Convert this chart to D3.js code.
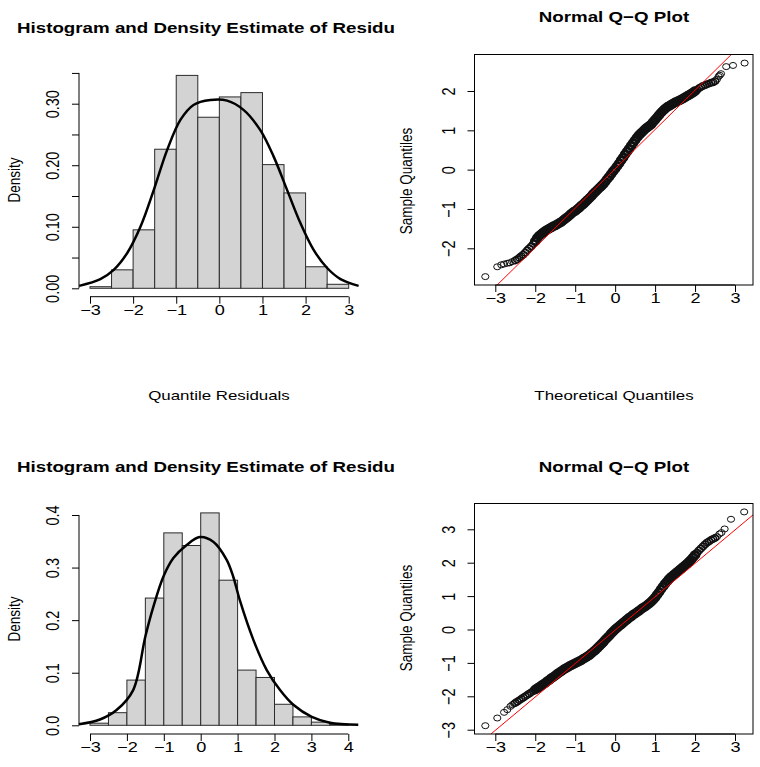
<!DOCTYPE html>
<html>
<head>
<meta charset="utf-8">
<script src="https://cdn.jsdelivr.net/npm/d3@7"></script>
<style>
  body { margin: 0; background: #fff; }
  svg { display: block; font-family: "Liberation Sans", Arial, Helvetica, sans-serif; }
</style>
</head>
<body>
<div id="chart"></div>
<script>
// ---- data ----

// top row: histogram of residuals (breaks every 0.5) and density estimate
var breaksTop = [-3, -2.5, -2, -1.5, -1, -0.5, 0, 0.5, 1, 1.5, 2, 2.5, 3];
var densTop = [0.0026, 0.030, 0.095, 0.226, 0.346, 0.278, 0.311, 0.318, 0.201, 0.155, 0.035, 0.0065];
var kdeTopX = [-3.25, -2.76, -2.45, -2.14, -1.83, -1.52, -1.21, -0.90, -0.60, -0.21, 0.18, 0.56, 0.95, 1.26, 1.57, 1.88, 2.19, 2.50, 2.81, 3.23];
var kdeTopY = [0.004, 0.015, 0.030, 0.057, 0.100, 0.160, 0.225, 0.274, 0.298, 0.306, 0.305, 0.290, 0.257, 0.214, 0.160, 0.106, 0.062, 0.033, 0.015, 0.004];
var histTopXTicks = [-3, -2, -1, 0, 1, 2, 3];
var histTopYTicks = [0, 0.05, 0.10, 0.15, 0.20, 0.25, 0.30, 0.35];
var histTopYLabels = [0, 0.10, 0.20, 0.30];

// bottom row histogram
var breaksBot = [-3, -2.5, -2, -1.5, -1, -0.5, 0, 0.5, 1, 1.5, 2, 2.5, 3, 3.5, 4];
var densBot = [0.004, 0.024, 0.086, 0.242, 0.366, 0.342, 0.404, 0.276, 0.105, 0.091, 0.040, 0.016, 0.006, 0.002];
var kdeBotX = [-3.30, -2.73, -2.28, -1.83, -1.50, -1.28, -1.01, -0.74, -0.38, -0.02, 0.34, 0.70, 0.88, 1.06, 1.43, 1.79, 2.15, 2.51, 3.01, 3.50, 4.27];
var kdeBotY = [0.002, 0.011, 0.029, 0.067, 0.169, 0.226, 0.283, 0.318, 0.343, 0.358, 0.349, 0.315, 0.283, 0.238, 0.162, 0.105, 0.067, 0.039, 0.016, 0.005, 0.001];
var histBotXTicks = [-3, -2, -1, 0, 1, 2, 3, 4];
var histBotYTicks = [0, 0.1, 0.2, 0.3, 0.4];

// normal Q-Q plots: [theoretical, sample]
var qqTop = [
  [-3.25,-2.72],[-2.95,-2.47],[-2.85,-2.42],[-2.78,-2.40],[-2.70,-2.38],[-2.64,-2.37],[-2.58,-2.34],
  [-2.50,-2.31],[-2.45,-2.28],[-2.40,-2.24],[-2.35,-2.20],[-2.30,-2.16],[-2.25,-2.11],[-2.20,-2.05],
  [-2.15,-2.00],[-2.10,-1.95],[-2.05,-1.89],[-2.00,-1.82],[-1.95,-1.74],[-1.90,-1.68],[-1.85,-1.64],
  [-1.80,-1.60],[-1.75,-1.56],[-1.70,-1.53],[-1.65,-1.50],[-1.60,-1.47],[-1.55,-1.44],[-1.50,-1.42],
  [-1.45,-1.39],[-1.40,-1.36],[-1.35,-1.33],[-1.30,-1.29],[-1.25,-1.25],[-1.20,-1.21],[-1.15,-1.17],
  [-1.10,-1.12],[-1.05,-1.08],[-1.00,-1.05],[-0.95,-1.01],[-0.90,-0.97],[-0.85,-0.92],[-0.80,-0.88],
  [-0.75,-0.83],[-0.70,-0.78],[-0.65,-0.73],[-0.60,-0.68],[-0.55,-0.62],[-0.50,-0.57],[-0.45,-0.52],
  [-0.40,-0.47],[-0.35,-0.42],[-0.30,-0.37],[-0.25,-0.31],[-0.20,-0.24],[-0.15,-0.18],[-0.10,-0.11],
  [-0.05,-0.04],[0.00,0.02],[0.05,0.09],[0.10,0.16],[0.15,0.24],[0.20,0.31],[0.25,0.39],[0.30,0.46],
  [0.35,0.53],[0.40,0.61],[0.45,0.68],[0.50,0.75],[0.55,0.82],[0.60,0.88],[0.65,0.93],[0.70,0.98],
  [0.75,1.03],[0.80,1.07],[0.85,1.11],[0.90,1.15],[0.95,1.21],[1.00,1.27],[1.05,1.33],[1.10,1.39],
  [1.15,1.45],[1.20,1.50],[1.25,1.55],[1.30,1.59],[1.35,1.62],[1.40,1.65],[1.45,1.68],[1.50,1.71],
  [1.55,1.73],[1.60,1.76],[1.65,1.78],[1.70,1.81],[1.75,1.84],[1.80,1.87],[1.85,1.90],[1.90,1.93],
  [1.95,1.96],[2.00,2.00],[2.05,2.03],[2.10,2.07],[2.15,2.10],[2.20,2.13],[2.25,2.15],[2.30,2.17],
  [2.35,2.19],[2.40,2.21],[2.45,2.22],[2.50,2.25],
  [2.55,2.30],[2.59,2.37],[2.62,2.40],[2.65,2.44],[2.78,2.62],[2.95,2.65],[3.24,2.71]
];
var qqLineTop = { intercept: 0.02, slope: 1.0 };

var qqBot = [
  [-3.25,-2.88],[-2.95,-2.65],[-2.78,-2.48],[-2.70,-2.40],[-2.62,-2.30],[-2.57,-2.25],[-2.53,-2.22],
  [-2.50,-2.20],[-2.45,-2.16],[-2.40,-2.12],[-2.35,-2.08],[-2.30,-2.04],[-2.25,-2.00],[-2.20,-1.96],
  [-2.15,-1.92],[-2.10,-1.88],[-2.05,-1.84],[-2.00,-1.80],[-1.95,-1.76],[-1.90,-1.72],[-1.85,-1.68],
  [-1.80,-1.64],[-1.75,-1.60],[-1.70,-1.55],[-1.65,-1.51],[-1.60,-1.46],[-1.55,-1.42],[-1.50,-1.38],
  [-1.45,-1.33],[-1.40,-1.29],[-1.35,-1.25],[-1.30,-1.21],[-1.25,-1.17],[-1.20,-1.14],[-1.15,-1.10],
  [-1.10,-1.07],[-1.05,-1.04],[-1.00,-1.01],[-0.95,-0.98],[-0.90,-0.95],[-0.85,-0.92],[-0.80,-0.88],
  [-0.75,-0.85],[-0.70,-0.81],[-0.65,-0.77],[-0.60,-0.72],[-0.55,-0.67],[-0.50,-0.62],[-0.45,-0.56],
  [-0.40,-0.50],[-0.35,-0.44],[-0.30,-0.38],[-0.25,-0.31],[-0.20,-0.25],[-0.15,-0.19],[-0.10,-0.12],
  [-0.05,-0.06],[0.00,0.00],[0.05,0.05],[0.10,0.10],[0.15,0.15],[0.20,0.20],[0.25,0.25],[0.30,0.30],
  [0.35,0.35],[0.40,0.39],[0.45,0.44],[0.50,0.48],[0.55,0.52],[0.60,0.56],[0.65,0.61],[0.70,0.65],
  [0.75,0.69],[0.80,0.73],[0.85,0.78],[0.90,0.83],[0.95,0.89],[1.00,0.96],[1.05,1.04],[1.10,1.12],
  [1.15,1.21],[1.20,1.29],[1.25,1.37],[1.30,1.44],[1.35,1.51],[1.40,1.57],[1.45,1.62],[1.50,1.67],
  [1.55,1.72],[1.60,1.77],[1.65,1.82],[1.70,1.87],[1.75,1.92],[1.80,1.97],[1.85,2.03],[1.90,2.09],
  [1.95,2.16],[2.00,2.23],[2.05,2.30],[2.10,2.37],[2.15,2.43],[2.20,2.49],[2.25,2.55],[2.30,2.60],
  [2.35,2.64],[2.40,2.68],[2.45,2.71],[2.50,2.74],
  [2.55,2.78],[2.61,2.86],[2.66,2.90],[2.74,3.01],[2.90,3.30],[3.23,3.52]
];
var qqLineBot = { intercept: -0.02, slope: 1.0 };
var qqXTicks = [-3, -2, -1, 0, 1, 2, 3];
var qqTopYTicks = [-2, -1, 0, 1, 2];
var qqBotYTicks = [-3, -2, -1, 0, 1, 2, 3];

// ---- drawing ----
var svg = d3.select("#chart").append("svg")
  .attr("width", 760)
  .attr("height", 767);

// the picture is stretched sideways, so text is too
var SX = 1.25;
var tickFont = 14.5;
var labFont = 13.5;
var titleFont = 15;

function fmtNum(d, digits) {
  return d3.format("." + digits + "f")(d);
}

// axis helpers: R style, line runs from first to last tick
function bottomAxis(g, x, ticks, yPos, fmt) {
  var ax = g.append("g")
    .attr("transform", "translate(0," + yPos + ")")
    .call(d3.axisBottom(x).tickValues(ticks).tickSize(7).tickSizeOuter(0).tickFormat(fmt));
  ax.select(".domain").remove();
  ax.append("line")
    .attr("x1", x(ticks[0])).attr("x2", x(ticks[ticks.length - 1]))
    .attr("stroke", "#000");
  ax.selectAll(".tick line").attr("stroke", "#000");
  ax.selectAll("text")
    .attr("transform", "translate(0,8) scale(" + SX + ",1)")
    .attr("y", 0).attr("dy", "0.71em")
    .attr("fill", "#000")
    .style("font-size", tickFont + "px")
    .style("font-family", "'Liberation Sans', Arial, sans-serif");
  return ax;
}

function leftAxis(g, y, ticks, xPos, fmt, labelled) {
  var ax = g.append("g")
    .attr("transform", "translate(" + xPos + ",0)")
    .call(d3.axisLeft(y).tickValues(ticks).tickSize(7).tickSizeOuter(0).tickFormat(fmt));
  ax.select(".domain").remove();
  ax.append("line")
    .attr("y1", y(ticks[0])).attr("y2", y(ticks[ticks.length - 1]))
    .attr("stroke", "#000");
  ax.selectAll(".tick line").attr("stroke", "#000");
  ax.selectAll("text")
    .attr("transform", "translate(-20,0) scale(" + SX + ",1) rotate(-90)")
    .attr("x", 0).attr("y", 0).attr("dy", 0)
    .attr("text-anchor", "middle")
    .attr("fill", "#000")
    .style("font-size", tickFont + "px")
    .style("font-family", "'Liberation Sans', Arial, sans-serif")
    .text(function(d) { return labelled(d) ? fmt(d) : ""; });
  return ax;
}

function title(txt, x, y, anchor) {
  svg.append("text")
    .attr("transform", "translate(" + x + "," + y + ") scale(" + SX + ",1)")
    .attr("text-anchor", anchor)
    .style("font-size", titleFont + "px")
    .style("font-weight", "bold")
    .text(txt);
}

function xLabel(txt, x, y) {
  svg.append("text")
    .attr("transform", "translate(" + x + "," + y + ") scale(" + SX + ",1)")
    .attr("text-anchor", "middle")
    .style("font-size", labFont + "px")
    .text(txt);
}

function yLabel(txt, x, y) {
  svg.append("text")
    .attr("transform", "translate(" + x + "," + y + ") scale(" + SX + ",1) rotate(-90)")
    .attr("text-anchor", "middle")
    .style("font-size", labFont + "px")
    .text(txt);
}

function histPanel(p) {
  var x = d3.scaleLinear().domain(p.xDom).range(p.xRange);
  var y = d3.scaleLinear().domain(p.yDom).range(p.yRange);
  var g = svg.append("g");

  var bins = p.dens.map(function(d, i) {
    return { x0: p.breaks[i], x1: p.breaks[i + 1], d: d };
  });

  g.selectAll("rect")
    .data(bins)
    .enter().append("rect")
      .attr("x", function(d) { return x(d.x0); })
      .attr("y", function(d) { return y(d.d); })
      .attr("width", function(d) { return x(d.x1) - x(d.x0); })
      .attr("height", function(d) { return y(0) - y(d.d); })
      .attr("fill", "#d3d3d3")
      .attr("stroke", "#2b2b2b")
      .attr("stroke-width", 1);

  var line = d3.line()
    .x(function(d) { return x(d[0]); })
    .y(function(d) { return y(d[1]); })
    .curve(d3.curveCatmullRom);

  g.append("path")
    .datum(d3.zip(p.kdeX, p.kdeY))
    .attr("d", line)
    .attr("fill", "none")
    .attr("stroke", "#000")
    .attr("stroke-width", 2.5);

  bottomAxis(g, x, p.xTicks, p.xAxisY, function(d) { return d3.format("d")(d); });
  leftAxis(g, y, p.yTicks, p.yAxisX, function(d) { return fmtNum(d, p.digits); }, p.labelled);
}

function qqPanel(p) {
  var x = d3.scaleLinear().domain([-3, 3]).range(p.xRange);
  var y = d3.scaleLinear().domain(p.yDom).range(p.yRange);
  var g = svg.append("g");
  var clipId = "clip" + p.id;

  g.append("clipPath").attr("id", clipId)
    .append("rect")
      .attr("x", p.box[0]).attr("y", p.box[1])
      .attr("width", p.box[2] - p.box[0]).attr("height", p.box[3] - p.box[1]);

  // dense middle of the sample overplots into a solid band; tails stay open rings
  var weight = function(d) {
    var a = Math.abs(d[0]);
    return a <= 2.0 ? 2 : (a <= 2.5 ? 1 : 0);
  };
  g.selectAll("ellipse")
    .data(p.pts)
    .enter().append("ellipse")
      .attr("cx", function(d) { return x(d[0]); })
      .attr("cy", function(d) { return y(d[1]); })
      .attr("rx", function(d) { return [3.6, 3.7, 3.9][weight(d)]; })
      .attr("ry", function(d) { return [3.0, 3.1, 3.4][weight(d)]; })
      .attr("fill", "none")
      .attr("stroke", "#111")
      .attr("stroke-width", function(d) { return [1, 1.6, 2.8][weight(d)]; });

  var xa = x.invert(p.box[0]), xb = x.invert(p.box[2]);
  g.append("line")
    .attr("clip-path", "url(#" + clipId + ")")
    .attr("x1", x(xa)).attr("y1", y(p.qqLine.intercept + p.qqLine.slope * xa))
    .attr("x2", x(xb)).attr("y2", y(p.qqLine.intercept + p.qqLine.slope * xb))
    .attr("stroke", "#ff0000")
    .attr("stroke-width", 1);

  g.append("rect")
    .attr("x", p.box[0]).attr("y", p.box[1])
    .attr("width", p.box[2] - p.box[0]).attr("height", p.box[3] - p.box[1])
    .attr("fill", "none")
    .attr("stroke", "#000");

  bottomAxis(g, x, qqXTicks, p.box[3], function(d) { return d3.format("d")(d); });
  leftAxis(g, y, p.yTicks, p.box[0], function(d) { return d3.format("d")(d); }, function() { return true; });
}

// top left
histPanel({
  breaks: breaksTop, dens: densTop, kdeX: kdeTopX, kdeY: kdeTopY,
  xDom: [-3, 3], xRange: [90, 348.7],
  yDom: [0, 0.30], yRange: [288.3, 103.7],
  xTicks: histTopXTicks, yTicks: histTopYTicks, digits: 2,
  labelled: function(d) { return histTopYLabels.some(function(v) { return Math.abs(v - d) < 1e-9; }); },
  xAxisY: 296.7, yAxisX: 79
});
title("Histogram and Density Estimate of Residu", 17, 33, "start");
xLabel("Quantile Residuals", 219, 400);
yLabel("Density", 20, 180);

// top right
qqPanel({
  id: "t", pts: qqTop, qqLine: qqLineTop,
  xRange: [495.3, 735], yDom: [-2, 2], yRange: [248.3, 91],
  box: [474.5, 54.5, 753, 285], yTicks: qqTopYTicks
});
title("Normal Q\u2212Q Plot", 614, 22, "middle");
xLabel("Theoretical Quantiles", 614, 400);
yLabel("Sample Quantiles", 412, 181);

// bottom left
histPanel({
  breaks: breaksBot, dens: densBot, kdeX: kdeBotX, kdeY: kdeBotY,
  xDom: [-3, 4], xRange: [90, 348.3],
  yDom: [0, 0.4], yRange: [725.3, 515],
  xTicks: histBotXTicks, yTicks: histBotYTicks, digits: 1,
  labelled: function() { return true; },
  xAxisY: 734, yAxisX: 79
});
title("Histogram and Density Estimate of Residu", 17, 472, "start");
yLabel("Density", 20, 619);

// bottom right
qqPanel({
  id: "b", pts: qqBot, qqLine: qqLineBot,
  xRange: [495.3, 735], yDom: [-3, 3], yRange: [729.7, 529.3],
  box: [474.5, 503.5, 753, 734], yTicks: qqBotYTicks
});
title("Normal Q\u2212Q Plot", 614, 472, "middle");
yLabel("Sample Quantiles", 412, 618);
</script>
</body>
</html>
